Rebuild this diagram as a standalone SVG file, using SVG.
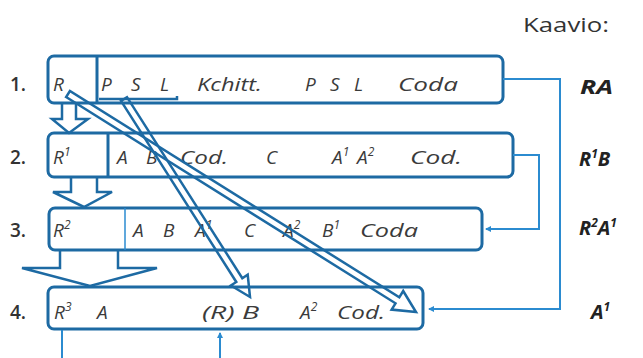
<svg xmlns="http://www.w3.org/2000/svg" width="643" height="358" viewBox="0 0 643 358">
<style>
.box{fill:none;stroke:#1d6aa3;stroke-width:3}
.div{stroke:#1d6aa3;stroke-width:3}
.divthin{stroke:#2b8bd0;stroke-width:1.5}
.thin{fill:none;stroke:#2b8bd0;stroke-width:2}
.hollow{fill:none;stroke:#1d6aa3;stroke-width:2.5;stroke-linejoin:miter}
.t{font-family:"Open Sans","DejaVu Sans",sans-serif;font-style:italic;font-size:19px;fill:#3b3b3b}
.n{font-family:"Open Sans","DejaVu Sans",sans-serif;font-weight:600;font-size:19px;fill:#333}
.lab{font-family:"Open Sans","DejaVu Sans",sans-serif;font-weight:700;font-style:italic;font-size:20px;fill:#222}
.sup{font-size:12px}
.title{font-family:"Open Sans","DejaVu Sans",sans-serif;font-size:20px;fill:#333}
</style>
<defs>
<marker id="ah" markerWidth="6" markerHeight="6" refX="5" refY="3" orient="auto" markerUnits="userSpaceOnUse">
<path d="M0,0 L6,3 L0,6 Z" fill="#2b8bd0"/>
</marker>
</defs>

<text class="title" x="523" y="32" textLength="86" lengthAdjust="spacingAndGlyphs">Kaavio:</text>

<g id="row1">
<text class="n" x="10" y="91">1.</text>
<rect class="box" x="48" y="56" width="455" height="47" rx="6"/>
<line class="div" x1="97" y1="56" x2="97" y2="103"/>
<path d="M99,99 H177 V96" fill="none" stroke="#1d6aa3" stroke-width="2.5"/>
<text class="t" x="53" y="91">R</text>
<text class="t" x="101" y="91" textLength="68" lengthAdjust="spacing">P S L</text>
<text class="t" x="197" y="91" textLength="65" lengthAdjust="spacingAndGlyphs">Kchitt.</text>
<text class="t" x="305" y="91" textLength="58" lengthAdjust="spacing">P S L</text>
<text class="t" x="398" y="91" textLength="60" lengthAdjust="spacingAndGlyphs">Coda</text>
</g>

<g id="row2">
<text class="n" x="10" y="164">2.</text>
<rect class="box" x="48" y="133" width="465" height="44" rx="6"/>
<line class="div" x1="108" y1="133" x2="108" y2="177"/>
<text class="t" x="53" y="164">R<tspan class="sup" dy="-8">1</tspan></text>
<text class="t" x="117" y="164">A</text>
<text class="t" x="146" y="164">B</text>
<text class="t" x="180" y="164" textLength="48" lengthAdjust="spacingAndGlyphs">Cod.</text>
<text class="t" x="266" y="164">C</text>
<text class="t" x="332" y="164">A<tspan class="sup" dy="-8">1</tspan></text>
<text class="t" x="357" y="164">A<tspan class="sup" dy="-8">2</tspan></text>
<text class="t" x="410" y="164" textLength="52" lengthAdjust="spacingAndGlyphs">Cod.</text>
</g>

<g id="row3">
<text class="n" x="10" y="237">3.</text>
<rect class="box" x="49" y="208" width="433" height="42" rx="6"/>
<line class="divthin" x1="125" y1="208" x2="125" y2="250"/>
<text class="t" x="53" y="237">R<tspan class="sup" dy="-8">2</tspan></text>
<text class="t" x="133" y="237">A</text>
<text class="t" x="163" y="237">B</text>
<text class="t" x="195" y="237">A<tspan class="sup" dy="-8">1</tspan></text>
<text class="t" x="244" y="237">C</text>
<text class="t" x="283" y="237">A<tspan class="sup" dy="-8">2</tspan></text>
<text class="t" x="322" y="237">B<tspan class="sup" dy="-8">1</tspan></text>
<text class="t" x="360" y="237" textLength="58" lengthAdjust="spacingAndGlyphs">Coda</text>
</g>

<g id="row4">
<text class="n" x="10" y="319">4.</text>
<rect class="box" x="48" y="287" width="375" height="42" rx="6"/>
<text class="t" x="54" y="319">R<tspan class="sup" dy="-8">3</tspan></text>
<text class="t" x="97" y="319">A</text>
<text class="t" x="202" y="319" textLength="57" lengthAdjust="spacingAndGlyphs">(R) B</text>
<text class="t" x="300" y="319">A<tspan class="sup" dy="-8">2</tspan></text>
<text class="t" x="337" y="319" textLength="48" lengthAdjust="spacingAndGlyphs">Cod.</text>
</g>

<g id="labels">
<text class="lab" x="580" y="94" textLength="33" lengthAdjust="spacingAndGlyphs">RA</text>
<text class="lab" x="579" y="166">R<tspan class="sup" dy="-8">1</tspan><tspan dy="8">B</tspan></text>
<text class="lab" x="579" y="235">R<tspan class="sup" dy="-8">2</tspan><tspan dy="8">A</tspan><tspan class="sup" dy="-8">1</tspan></text>
<text class="lab" x="591" y="319">A<tspan class="sup" dy="-8">1</tspan></text>
</g>

<g id="connectors">
<path class="hollow" d="M62,103 V119 H52 L69,133 L88,119 H76 V103"/>
<path class="hollow" d="M71,177 V192 H53 L84,207 L112,192 H97 V177"/>
<path class="hollow" d="M60,250 V268 H22 L90,286 L157,268 H118 V250"/>
<polygon class="hollow" points="66.1,97 395.5,303.3 391.6,309.6 416,312 403.2,291 399.3,297.3 69.9,91"/>
<polygon class="hollow" points="121,100.9 236.3,282 230.9,285.5 250,297 247.7,274.7 242.3,278.2 127,97.1"/>
<path class="thin" d="M503,79 H560 V309 H429" marker-end="url(#ah)"/>
<path class="thin" d="M513,155 H539 V229 H486" marker-end="url(#ah)"/>
<path class="thin" d="M62,330 V358"/>
<path class="thin" d="M220,358 V333" marker-end="url(#ah)"/>
</g>
</svg>
